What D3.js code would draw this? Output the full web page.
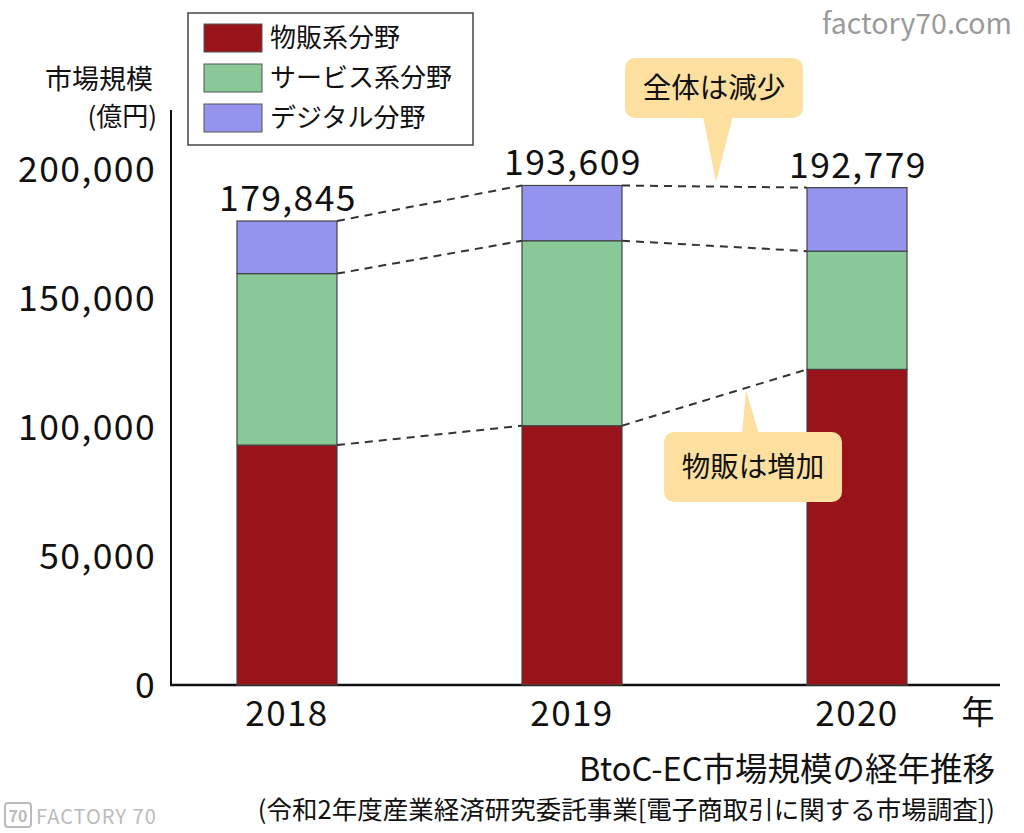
<!DOCTYPE html>
<html>
<head>
<meta charset="utf-8">
<script src="https://cdn.jsdelivr.net/npm/d3@7"></script>
<style>
  body { margin: 0; background: #fff; }
  svg { font-family: "Noto Sans CJK JP", "Noto Sans", sans-serif; }
</style>
</head>
<body>
<svg id="vis" width="1024" height="833"></svg>
<script>
// data (億円)
var years = ["2018", "2019", "2020"];
var goods = [92992, 100515, 122333];
var services = [66471, 71672, 45832];
var digital = [20382, 21422, 24614];
var seriesNames = ["物販系分野", "サービス系分野", "デジタル分野"];
var seriesColors = ["#99141a", "#88c997", "#9494ee"];
var yTicks = [0, 50000, 100000, 150000, 200000];

var svg = d3.select("#vis");

var x = d3.scalePoint().domain(years).range([287, 857]);
var y = d3.scaleLinear().domain([0, 200000]).range([685, 169]);
var barW = 100;

// stack the three series
var rows = years.map(function (yr, i) {
  return { year: yr, goods: goods[i], services: services[i], digital: digital[i] };
});
var stack = d3.stack().keys(["goods", "services", "digital"]);
var layers = stack(rows);

// axes (lines only, no ticks)
svg.append("line")
  .attr("x1", 171).attr("x2", 171)
  .attr("y1", 110).attr("y2", 685)
  .attr("stroke", "#111").attr("stroke-width", 2);
svg.append("line")
  .attr("x1", 170).attr("x2", 1000)
  .attr("y1", 685).attr("y2", 685)
  .attr("stroke", "#111").attr("stroke-width", 2.5);

svg.selectAll(".ytick")
  .data(yTicks)
  .enter().append("text")
  .attr("x", 156)
  .attr("y", function (d) { return y(d); })
  .attr("dy", "0.36em")
  .attr("text-anchor", "end")
  .attr("font-size", 35.5)
  .attr("letter-spacing", 1.4)
  .attr("fill", "#111")
  .text(function (d) { return d3.format(",")(d); });

svg.selectAll(".xtick")
  .data(years)
  .enter().append("text")
  .attr("x", function (d) { return x(d); })
  .attr("y", 726)
  .attr("text-anchor", "middle")
  .attr("font-size", 35)
  .attr("letter-spacing", 1.4)
  .attr("fill", "#111")
  .text(function (d) { return d; });

svg.append("text")
  .attr("x", 978).attr("y", 724)
  .attr("text-anchor", "middle")
  .attr("font-size", 33)
  .attr("fill", "#111")
  .text("年");

// y axis title
svg.append("text")
  .attr("x", 153).attr("y", 89)
  .attr("text-anchor", "end")
  .attr("font-size", 27)
  .attr("fill", "#111")
  .text("市場規模");
svg.append("text")
  .attr("x", 157).attr("y", 126)
  .attr("text-anchor", "end")
  .attr("font-size", 26)
  .attr("fill", "#111")
  .text("(億円)");

// dashed connector lines between bars
layers.forEach(function (layer) {
  for (var i = 0; i < years.length - 1; i++) {
    svg.append("line")
      .attr("x1", x(years[i]) + barW / 2)
      .attr("y1", y(layer[i][1]))
      .attr("x2", x(years[i + 1]) - barW / 2)
      .attr("y2", y(layer[i + 1][1]))
      .attr("stroke", "#333")
      .attr("stroke-width", 2)
      .attr("stroke-dasharray", "8,6");
  }
});

// bars
svg.selectAll(".layer")
  .data(layers)
  .enter().append("g")
  .attr("fill", function (d, i) { return seriesColors[i]; })
  .selectAll("rect")
  .data(function (d) { return d; })
  .enter().append("rect")
  .attr("x", function (d) { return x(d.data.year) - barW / 2; })
  .attr("y", function (d) { return y(d[1]); })
  .attr("width", barW)
  .attr("height", function (d) { return y(d[0]) - y(d[1]); })
  .attr("stroke", "#444")
  .attr("stroke-width", 1.2);

// totals
svg.selectAll(".total")
  .data(rows)
  .enter().append("text")
  .attr("x", function (d) { return x(d.year) + 1; })
  .attr("y", function (d) { return y(d.goods + d.services + d.digital) - 10; })
  .attr("text-anchor", "middle")
  .attr("font-size", 35.5)
  .attr("letter-spacing", 1.4)
  .attr("fill", "#111")
  .text(function (d) { return d3.format(",")(d.goods + d.services + d.digital); });

// legend
var legend = svg.append("g");
legend.append("rect")
  .attr("x", 188).attr("y", 13)
  .attr("width", 285).attr("height", 132)
  .attr("fill", "#fff")
  .attr("stroke", "#444").attr("stroke-width", 1.5);
seriesNames.forEach(function (name, i) {
  legend.append("rect")
    .attr("x", 204).attr("y", 24 + i * 40)
    .attr("width", 58).attr("height", 28)
    .attr("fill", seriesColors[i])
    .attr("stroke", "#555").attr("stroke-width", 1);
  legend.append("text")
    .attr("x", 270).attr("y", 38 + i * 40)
    .attr("dy", "0.36em")
    .attr("font-size", 26)
    .attr("fill", "#111")
    .text(name);
});

// callout bubbles
function bubble(bx, by, bw, bh, tail, label) {
  var g = svg.append("g");
  g.append("path")
    .attr("d", "M" + tail[0][0] + "," + tail[0][1] + "L" + tail[1][0] + "," + tail[1][1] + "L" + tail[2][0] + "," + tail[2][1] + "Z")
    .attr("fill", "#fde09f");
  g.append("rect")
    .attr("x", bx).attr("y", by)
    .attr("width", bw).attr("height", bh)
    .attr("rx", 10)
    .attr("fill", "#fde09f");
  g.append("text")
    .attr("x", bx + bw / 2).attr("y", by + bh / 2)
    .attr("dy", "0.36em")
    .attr("text-anchor", "middle")
    .attr("font-size", 28.5)
    .attr("fill", "#111")
    .text(label);
}
bubble(625, 58, 178, 60, [[703, 116], [733, 116], [716, 182]], "全体は減少");
bubble(664, 432, 178, 70, [[742, 434], [759, 434], [746, 390]], "物販は増加");

// titles
svg.append("text")
  .attr("x", 995).attr("y", 781)
  .attr("text-anchor", "end")
  .attr("font-size", 32.5)
  .attr("fill", "#111")
  .text("BtoC-EC市場規模の経年推移");
svg.append("text")
  .attr("x", 995).attr("y", 819)
  .attr("text-anchor", "end")
  .attr("font-size", 25.5)
  .attr("fill", "#111")
  .text("(令和2年度産業経済研究委託事業[電子商取引に関する市場調査])");

// watermarks
svg.append("text")
  .attr("x", 1012).attr("y", 34)
  .attr("text-anchor", "end")
  .attr("font-size", 28.5)
  .attr("fill", "#9a9a9a")
  .text("factory70.com");
svg.append("rect")
  .attr("x", 5).attr("y", 803)
  .attr("width", 26).attr("height", 24)
  .attr("rx", 3)
  .attr("fill", "none")
  .attr("stroke", "#bbb").attr("stroke-width", 2);
svg.append("text")
  .attr("x", 18).attr("y", 822)
  .attr("text-anchor", "middle")
  .attr("font-size", 16)
  .attr("font-weight", "bold")
  .attr("fill", "#bbb")
  .text("70");
svg.append("text")
  .attr("x", 36).attr("y", 824)
  .attr("font-size", 20)
  .attr("letter-spacing", 1)
  .attr("fill", "#bbb")
  .text("FACTORY 70");
</script>
</body>
</html>
